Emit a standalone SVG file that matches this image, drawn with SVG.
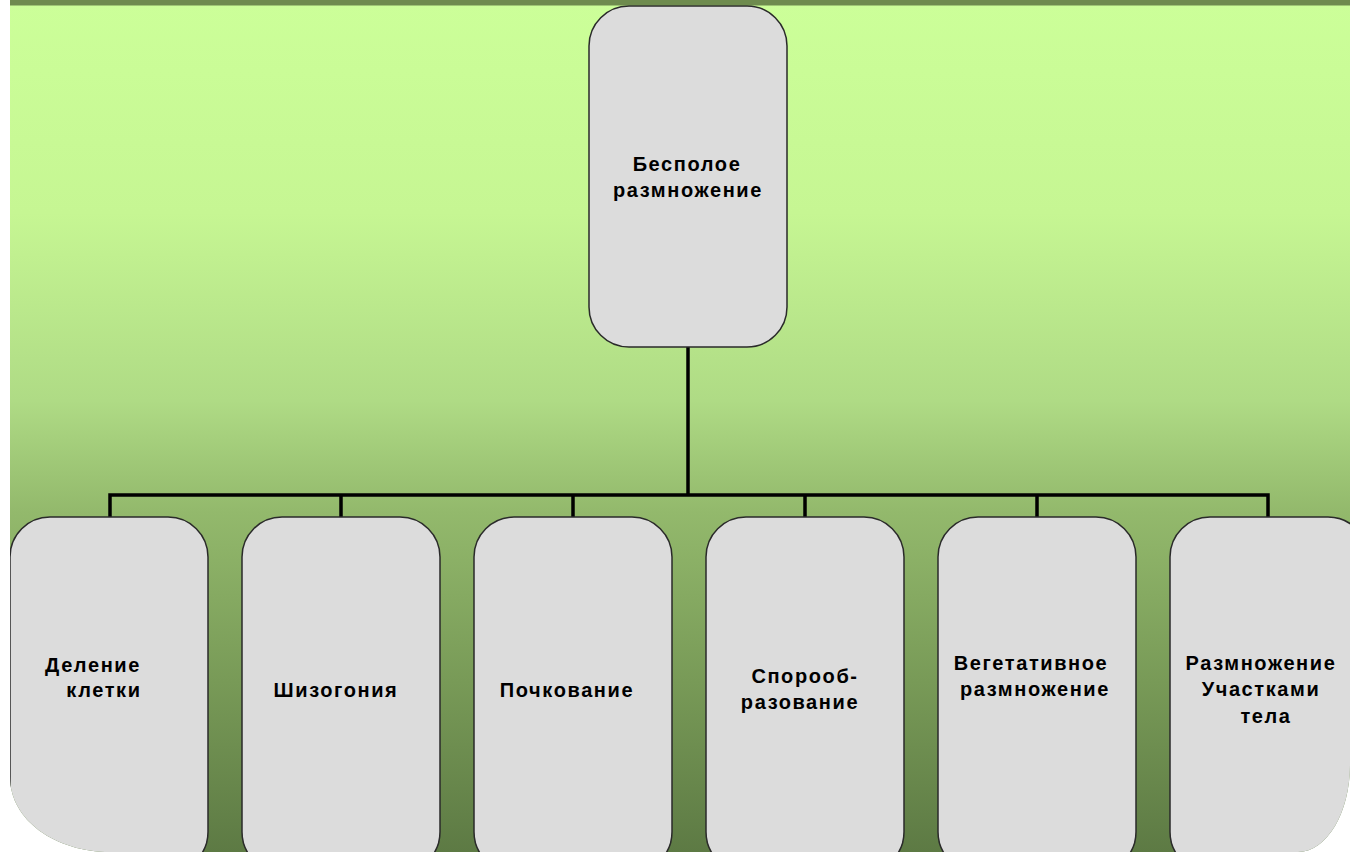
<svg xmlns="http://www.w3.org/2000/svg" width="1350" height="852" viewBox="0 0 1350 852">
<defs>
<linearGradient id="bg" x1="0" y1="0" x2="0" y2="852" gradientUnits="userSpaceOnUse">
<stop offset="0" stop-color="#ccff99"/>
<stop offset="0.25" stop-color="#c6f693"/>
<stop offset="0.47" stop-color="#afdb85"/>
<stop offset="0.6" stop-color="#93b96c"/>
<stop offset="0.8" stop-color="#789a57"/>
<stop offset="1" stop-color="#5d7a44"/>
</linearGradient>
<clipPath id="slide">
<path d="M10,0 H1350 V765 C1350,812 1327,852 1298,852 H110 C55,852 10,820 10,777 Z"/>
</clipPath>
<style>
.box{fill:#dcdcdc;stroke:#2a2a2a;stroke-width:1.5}
.conn{fill:none;stroke:#000;stroke-width:3.5}
.t{font-family:"Liberation Sans",Arial,sans-serif;font-size:20px;font-weight:bold;letter-spacing:1.6px;fill:#000;text-anchor:middle}
</style>
</defs>
<rect x="0" y="0" width="1350" height="852" fill="#ffffff"/>
<g clip-path="url(#slide)">
<rect x="0" y="0" width="1350" height="852" fill="url(#bg)"/>
<rect x="0" y="0" width="1350" height="5.5" fill="#6e8b4e"/>
<g id="connectors">
<path class="conn" d="M688,347 V495"/>
<path class="conn" d="M110,517 V495 H1268 V517"/>
<path class="conn" d="M341,495 V517 M573,495 V517 M805,495 V517 M1037,495 V517"/>
</g>
<g id="root">
<rect class="box" x="589" y="6" width="198" height="341" rx="40" ry="40"/>
<text class="t" x="687" y="171">Бесполое</text>
<text class="t" x="688" y="197">размножение</text>
</g>
<g id="n1">
<rect class="box" x="10" y="517" width="198" height="355" rx="40" ry="40"/>
<text class="t" x="93" y="672">Деление</text>
<text class="t" x="104" y="697">клетки</text>
</g>
<g id="n2">
<rect class="box" x="242" y="517" width="198" height="355" rx="40" ry="40"/>
<text class="t" x="336" y="697">Шизогония</text>
</g>
<g id="n3">
<rect class="box" x="474" y="517" width="198" height="355" rx="40" ry="40"/>
<text class="t" x="567" y="697">Почкование</text>
</g>
<g id="n4">
<rect class="box" x="706" y="517" width="198" height="355" rx="40" ry="40"/>
<text class="t" x="805" y="683">Спорооб-</text>
<text class="t" x="800" y="709">разование</text>
</g>
<g id="n5">
<rect class="box" x="938" y="517" width="198" height="355" rx="40" ry="40"/>
<text class="t" x="1031" y="670">Вегетативное</text>
<text class="t" x="1035" y="696">размножение</text>
</g>
<g id="n6">
<rect class="box" x="1170" y="517" width="198" height="355" rx="40" ry="40"/>
<text class="t" x="1261" y="670">Размножение</text>
<text class="t" x="1261" y="696">Участками</text>
<text class="t" x="1266" y="723">тела</text>
</g>
</g>
</svg>
